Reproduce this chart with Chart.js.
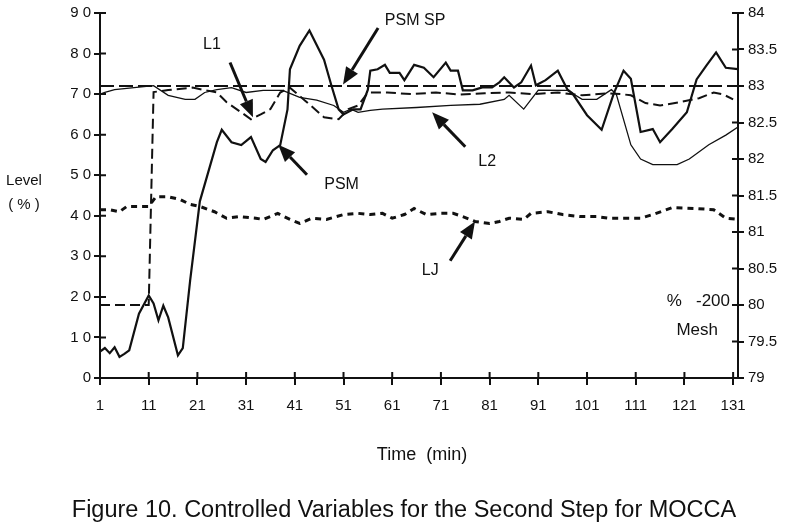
<!DOCTYPE html>
<html>
<head>
<meta charset="utf-8">
<script src="https://cdn.jsdelivr.net/npm/chart.js@4/dist/chart.umd.min.js"></script>
<style>
  html, body { margin: 0; padding: 0; background: #fff; }
  #wrap { width: 800px; height: 528px; position: relative; }
</style>
</head>
<body>
<div id="wrap"><canvas id="chart" width="800" height="528"></canvas></div>
<script>
// x axis tick labels (minutes)
const xTickLabels = [1, 11, 21, 31, 41, 51, 61, 71, 81, 91, 101, 111, 121, 131];

// PSM, % -200 mesh (right axis)
const psmTime = [1, 2, 3, 4, 5, 6, 7, 9, 11, 12, 13, 14, 15, 17, 18, 19.5, 21.5, 25, 26, 28,
  30, 32, 34, 35, 36.5, 38, 39.5, 40, 42, 44, 47, 48.5, 50, 51, 53, 54.5, 56, 56.5, 58, 59.5,
  60.5, 62.5, 63.5, 65.5, 67.5, 69.5, 72, 73, 74.5, 75.5, 77.5, 79.5, 81.5, 83, 84, 86, 87.5, 89.5, 90.5, 92.5,
  95, 97, 98, 101, 104, 106.5, 108.5, 110, 112, 114.5, 116, 118.5, 121.5, 123.5, 125.5, 127.5, 129.5, 132];
const psmValue = [79.36, 79.41, 79.34, 79.42, 79.29, 79.33, 79.38, 79.88, 80.13, 80.02, 79.79, 79.99, 79.83, 79.31, 79.41, 80.33, 81.42, 82.23, 82.40, 82.23,
  82.19, 82.30, 82.00, 81.96, 82.12, 82.19, 82.68, 83.23, 83.55, 83.76, 83.36, 83.01, 82.68, 82.61, 82.68, 82.68, 82.95, 83.21, 83.23, 83.29,
  83.18, 83.18, 83.08, 83.29, 83.25, 83.12, 83.32, 83.21, 83.21, 82.94, 82.94, 82.98, 82.98, 83.05, 83.12, 82.98, 83.05, 83.28, 83.01, 83.08,
  83.21, 82.95, 82.90, 82.60, 82.40, 82.90, 83.21, 83.10, 82.37, 82.41, 82.23, 82.41, 82.64, 83.09, 83.28, 83.46, 83.25, 83.23];

// PSM set point (right axis)
const spTime = [1, 132];
const spValue = [83, 83];

// L1 level % (left axis)
const l1Time = [1, 11, 12, 15, 20, 25, 27, 30, 32, 34, 36, 38, 40, 43, 47, 50, 52, 54, 56, 60,
  65, 70, 75, 80, 85, 90, 95, 100, 105, 108, 110, 113, 116, 120, 124, 127, 129, 131];
const l1Value = [18, 18, 70.5, 71, 71.6, 70.4, 68, 65.5, 63.8, 65, 66.3, 70.4, 71.6, 68.5, 64.3, 63.8, 66.3, 67.2, 70.4, 70.4,
  70, 70.4, 69.9, 70.2, 70.4, 70, 70.4, 69.7, 70.2, 70, 69.7, 67.8, 67.2, 68, 69, 70.4, 69.9, 68.7];

// L2 level % (left axis)
const l2Time = [1, 2, 4, 8, 12, 15, 18.5, 20.5, 22.5, 25, 28, 31, 34.5, 38.5, 42, 45.5, 49, 51, 52.5, 54,
  56.5, 59, 66, 73, 79, 84, 85, 88, 91, 97, 100, 103, 106, 107, 110, 112, 114.5, 119.5, 122, 126, 129.5, 132];
const l2Value = [70, 70.4, 71.1, 71.6, 72.1, 69.7, 68.7, 68.7, 70.4, 71.1, 71.6, 70.4, 70.9, 70.9, 69.2, 68.5, 67.2, 65.5, 66.3, 65.5,
  66, 66.3, 66.7, 67.2, 67.5, 68.7, 69.7, 66.3, 71, 70.9, 68.7, 68.7, 71.1, 70, 57.5, 54, 52.6, 52.6, 54, 57.5, 59.9, 61.9];

// LJ level % (left axis)
const ljTime = [1, 3, 5, 6.5, 11, 12.5, 15, 17.5, 19.5, 21.5, 24.5, 27, 29.5, 33, 34.5, 37.5, 40, 42, 44.5, 47.5,
  51, 54, 56.5, 59, 61, 63.5, 65.5, 68, 71, 73.5, 75.5, 78, 81, 83, 85, 88, 89.5, 93, 96, 99.5,
  103, 105.5, 109, 112, 114.5, 118.5, 123, 127, 129.5, 132];
const ljValue = [41.5, 41.5, 41, 42.3, 42.3, 44.7, 44.7, 44, 42.8, 42.3, 41, 39.4, 39.8, 39.4, 39.1, 40.6, 39.1, 38.1, 39.4, 39.1,
  40.3, 40.6, 40.3, 40.6, 39.4, 40.3, 41.8, 40.3, 40.6, 40.6, 39.8, 38.6, 38.1, 38.6, 39.4, 39.1, 40.6, 41, 40.3, 39.8,
  39.8, 39.4, 39.4, 39.4, 40.3, 42, 41.8, 41.5, 39.4, 39.1];

// callouts, in (minute, level %) units: label position, arrow tail, arrow tip
const callouts = [
  { text: 'L1',     at: [24, 82.2],   tail: [27.7, 77.8], tip: [32.4, 64.3] },
  { text: 'PSM SP', at: [65.7, 88.2], tail: [58.1, 86.3], tip: [50.9, 72.4] },
  { text: 'PSM',    at: [50.6, 47.7], tail: [43.5, 50.1], tip: [37.6, 57.5] },
  { text: 'L2',     at: [80.5, 53.3], tail: [76, 57],     tip: [69.2, 65.5] },
  { text: 'LJ',     at: [68.8, 26.4], tail: [72.9, 28.9], tip: [78, 38.6] }
];

const INK = '#111';
const FONT = '"Liberation Sans", Arial, sans-serif';

function pts(t, v) {
  return t.map((x, i) => ({ x, y: v[i] }));
}

function line(data, axis, width, dash) {
  return {
    data, yAxisID: axis, borderColor: INK, borderWidth: width, borderDash: dash,
    pointRadius: 0, tension: 0, fill: false
  };
}

const extras = {
  id: 'extras',
  afterDraw(chart) {
    const { ctx, chartArea: a, scales } = chart;
    const xs = scales.x, yl = scales.y, yr = scales.yMesh;
    ctx.save();
    ctx.strokeStyle = INK;
    ctx.fillStyle = INK;
    ctx.lineWidth = 2;

    // inner halves of the tick marks
    ctx.beginPath();
    xTickLabels.forEach(v => {
      const px = xs.getPixelForValue(v);
      ctx.moveTo(px, a.bottom); ctx.lineTo(px, a.bottom - 6);
    });
    yl.ticks.forEach(t => {
      const py = yl.getPixelForValue(t.value);
      ctx.moveTo(a.left, py); ctx.lineTo(a.left + 6, py);
    });
    yr.ticks.forEach(t => {
      const py = yr.getPixelForValue(t.value);
      ctx.moveTo(a.right, py); ctx.lineTo(a.right - 6, py);
    });
    ctx.stroke();

    // callouts
    ctx.font = '16px ' + FONT;
    ctx.textAlign = 'center';
    ctx.textBaseline = 'middle';
    callouts.forEach(c => {
      const tx = xs.getPixelForValue(c.tail[0]), ty = yl.getPixelForValue(c.tail[1]);
      const hx = xs.getPixelForValue(c.tip[0]), hy = yl.getPixelForValue(c.tip[1]);
      const ang = Math.atan2(hy - ty, hx - tx);
      const len = 17, half = 7;
      const bx = hx - len * Math.cos(ang), by = hy - len * Math.sin(ang);
      ctx.lineWidth = 3;
      ctx.beginPath(); ctx.moveTo(tx, ty); ctx.lineTo(bx, by); ctx.stroke();
      ctx.beginPath();
      ctx.moveTo(hx, hy);
      ctx.lineTo(bx + half * Math.sin(ang), by - half * Math.cos(ang));
      ctx.lineTo(bx - half * Math.sin(ang), by + half * Math.cos(ang));
      ctx.closePath(); ctx.fill();
      ctx.fillText(c.text, xs.getPixelForValue(c.at[0]), yl.getPixelForValue(c.at[1]));
    });

    // right axis title inside the plot
    ctx.font = '17px ' + FONT;
    ctx.textAlign = 'right';
    ctx.fillText('%   -200', a.right - 8, yr.getPixelForValue(80.05));
    ctx.fillText('Mesh', a.right - 20, yr.getPixelForValue(79.65));

    // left axis title
    ctx.font = '15px ' + FONT;
    ctx.textAlign = 'center';
    ctx.fillText('Level', 24, 181);
    ctx.fillText('( % )', 24, 205);

    // x axis title and caption
    ctx.font = '18px ' + FONT;
    ctx.fillText('Time  (min)', (a.left + a.right) / 2 + 3, 455);
    ctx.font = '23.5px ' + FONT;
    ctx.fillText('Figure 10. Controlled Variables for the Second Step for MOCCA', 404, 511);
    ctx.restore();
  }
};

new Chart(document.getElementById('chart'), {
  type: 'line',
  data: {
    datasets: [
      line(pts(spTime, spValue), 'yMesh', 2, [14, 5]),
      line(pts(l1Time, l1Value), 'y', 2, [10, 5]),
      line(pts(l2Time, l2Value), 'y', 1.3, []),
      line(pts(ljTime, ljValue), 'y', 3, [6, 5]),
      line(pts(psmTime, psmValue), 'yMesh', 2.2, [])
    ]
  },
  options: {
    responsive: false,
    animation: false,
    layout: { padding: { top: 10, bottom: 50, left: 0, right: 0 } },
    plugins: { legend: { display: false }, tooltip: { enabled: false } },
    scales: {
      x: {
        type: 'linear', min: 1, max: 132,
        afterBuildTicks: s => { s.ticks = xTickLabels.map(v => ({ value: v })); },
        afterFit: s => { s.height = 100; },
        grid: { drawOnChartArea: false, color: INK, lineWidth: 2, tickLength: 7 },
        border: { color: INK, width: 2 },
        ticks: { color: INK, font: { family: FONT, size: 15 }, padding: 12, maxRotation: 0, autoSkip: false }
      },
      y: {
        position: 'left', min: 0, max: 90,
        afterFit: s => { s.width = 100; },
        grid: { drawOnChartArea: false, color: INK, lineWidth: 2, tickLength: 6 },
        border: { color: INK, width: 2 },
        ticks: { stepSize: 10, color: INK, font: { family: FONT, size: 15 }, padding: 3,
          callback: v => String(v).split('').join(' ') }
      },
      yMesh: {
        position: 'right', min: 79, max: 84,
        afterFit: s => { s.width = 62; },
        grid: { drawOnChartArea: false, color: INK, lineWidth: 2, tickLength: 6 },
        border: { color: INK, width: 2 },
        ticks: { stepSize: 0.5, color: INK, font: { family: FONT, size: 15 }, padding: 4,
          callback: v => String(v) }
      }
    }
  },
  plugins: [extras]
});
</script>
</body>
</html>
